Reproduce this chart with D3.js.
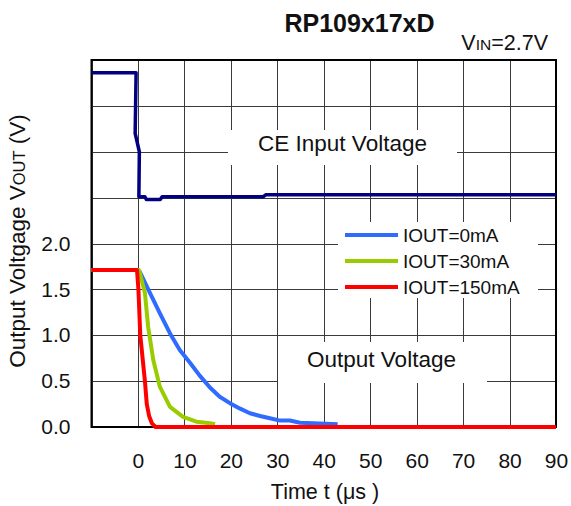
<!DOCTYPE html>
<html><head><meta charset="utf-8">
<script src="https://cdn.jsdelivr.net/npm/d3@7"></script>
<style>body{margin:0;background:#fff}svg text{font-family:"Liberation Sans",Arial,sans-serif;fill:#111}</style>
</head><body><svg id="c" width="571" height="506"></svg>
<script>
const xTicks=[-10,0,10,20,30,40,50,60,70,80,90];
const xTickLabels=["","0","10","20","30","40","50","60","70","80","90"];
const yGrid=[0,0.5,1,1.5,2,2.5,3,3.5,4];
const yTickLabels=["0.0","0.5","1.0","1.5","2.0"];
const ceInput=[[-10,3.86],[-0.4,3.86],[-0.6,3.2],[0.3,3.0],[0.2,2.51],[1.5,2.51],[1.8,2.48],[4.8,2.48],[5.2,2.51],[27,2.51],[27.5,2.53],[90,2.53]];
const iout0=[[-10,1.71],[0,1.71],[0.4,1.69],[2.6,1.46],[4.7,1.24],[6.9,1.02],[9.0,0.84],[11.2,0.70],[13.3,0.56],[15.5,0.43],[17.6,0.33],[19.8,0.26],[22,0.20],[24.1,0.15],[26.3,0.12],[28.4,0.095],[30.6,0.07],[32.7,0.07],[34.9,0.047],[37.7,0.04],[43,0.03]];
const iout30=[[-10,1.71],[0.2,1.71],[0.4,1.68],[1.5,1.46],[2.2,1.09],[3.3,0.73],[4.7,0.44],[6.9,0.22],[9.7,0.11],[12.6,0.058],[15.5,0.04],[16.6,0.03]];
const iout150=[[-10,1.71],[-0.2,1.71],[0.1,1.5],[0.5,1.0],[1.1,0.7],[1.5,0.5],[1.9,0.25],[2.4,0.12],[3.0,0.04],[3.8,0],[90,0]];
const seriesNames=["IOUT=0mA","IOUT=30mA","IOUT=150mA"];
const seriesColors=["#2f6bff","#99cc00","#ff0000"];

const svg=d3.select("#c");
const L=91.5,T=60,R=556,B=427;
const x=d3.scaleLinear().domain([-10,90]).range([L,R]);
const y=d3.scaleLinear().domain([0,4]).range([B,T]);

// grid
const g=svg.append("g");
g.selectAll(".vx").data(xTicks).join("line").attr("x1",d=>Math.round(x(d))+0.5).attr("x2",d=>Math.round(x(d))+0.5)
 .attr("y1",T).attr("y2",B).attr("stroke","#3a3a3a").attr("stroke-width",1);
g.selectAll(".hy").data(yGrid).join("line").attr("y1",d=>Math.round(y(d))+0.5).attr("y2",d=>Math.round(y(d))+0.5)
 .attr("x1",L).attr("x2",R).attr("stroke","#3a3a3a").attr("stroke-width",1);

// white label backgrounds
svg.append("rect").attr("x",228).attr("y",130).attr("width",229).attr("height",35).attr("fill","#fff");
svg.append("rect").attr("x",278).attr("y",342).attr("width",209).attr("height",41).attr("fill","#fff");
svg.append("rect").attr("x",338).attr("y",222).attr("width",200).attr("height",76).attr("fill","#fff");

// border
svg.append("rect").attr("x",L).attr("y",T).attr("width",R-L).attr("height",B-T).attr("fill","none").attr("stroke","#000").attr("stroke-width",2);

// axes labels via d3 axes
const xAxis=d3.axisBottom(x).tickValues(xTicks).tickFormat((d,i)=>xTickLabels[i]).tickSize(0).tickPadding(26);
const xa=svg.append("g").attr("transform",`translate(0,${B})`).call(xAxis);
xa.select(".domain").remove();
xa.selectAll("text").attr("font-size",21).attr("font-family","Liberation Sans, Arial").attr("fill","#111");
const yAxis=d3.axisLeft(y).tickValues([0,0.5,1,1.5,2]).tickFormat((d,i)=>yTickLabels[i]).tickSize(0).tickPadding(21);
const ya=svg.append("g").attr("transform",`translate(${L},0)`).call(yAxis);
ya.select(".domain").remove();
ya.selectAll("text").attr("font-size",21).attr("font-family","Liberation Sans, Arial").attr("fill","#111");

// lines
const line=d3.line().x(d=>x(d[0])).y(d=>y(d[1]));
svg.append("path").datum(ceInput).attr("d",line).attr("fill","none").attr("stroke","#000080").attr("stroke-width",3.5).attr("stroke-linejoin","round");
[iout0,iout30,iout150].forEach((s,i)=>{
  svg.append("path").datum(s).attr("d",line).attr("fill","none").attr("stroke",seriesColors[i]).attr("stroke-width",4).attr("stroke-linejoin","round");
});

// legend
seriesNames.forEach((n,i)=>{
  const yy=235+i*26;
  svg.append("line").attr("x1",345).attr("x2",398).attr("y1",yy).attr("y2",yy).attr("stroke",seriesColors[i]).attr("stroke-width",4);
  svg.append("text").attr("x",403).attr("y",yy+7).attr("font-size",19).text(n);
});

// text labels
svg.append("text").attr("x",342.5).attr("y",151).attr("text-anchor","middle").attr("font-size",22.5).text("CE Input Voltage");
svg.append("text").attr("x",381.5).attr("y",367).attr("text-anchor","middle").attr("font-size",22.5).text("Output Voltage");
svg.append("text").attr("x",359.5).attr("y",32).attr("text-anchor","middle").attr("font-size",25).attr("font-weight","bold").text("RP109x17xD");
const vin=svg.append("text").attr("x",548).attr("y",50).attr("text-anchor","end").attr("font-size",21.5);
vin.append("tspan").text("V");
vin.append("tspan").attr("font-size",15.5).text("IN");
vin.append("tspan").text("=2.7V");
svg.append("text").attr("x",325).attr("y",499).attr("text-anchor","middle").attr("font-size",21.5).attr("xml:space","preserve").text("Time t (μs )");
const yl=svg.append("text").attr("transform","translate(25,241) rotate(-90)").attr("text-anchor","middle").attr("font-size",22.5);
yl.append("tspan").text("Output Voltgage V");
yl.append("tspan").attr("font-size",16.5).text("OUT");
yl.append("tspan").text(" (V)");
</script></body></html>
